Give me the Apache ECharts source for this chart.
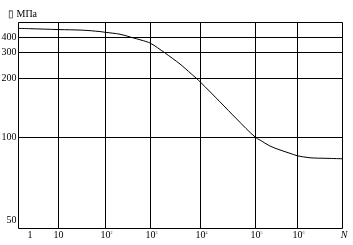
<!DOCTYPE html>
<html><head><meta charset="utf-8">
<script src="https://cdn.jsdelivr.net/npm/echarts@6/dist/echarts.min.js"></script>
<style>html,body{margin:0;padding:0;background:#fff}#c{width:353px;height:245px}</style>
</head><body><div id="c"></div>
<script>
// ---- data ----
const cycles = [0.4, 1, 10, 33, 76, 100, 210, 384, 615, 1000, 1905, 3890, 8356, 10000, 22620, 45500, 100000, 128000, 221000, 383000, 663000, 1000000, 1900000, 4530000, 10000000];
const stress = [458, 456, 450, 446, 437, 432, 420, 400, 381, 358, 300, 250.7, 200, 191.5, 152, 124.3, 100.2, 97.9, 93.1, 90.1, 87.6, 85.8, 84.4, 84.0, 83.7];
const xTickValues = [1, 10, 100, 1000, 10000, 100000, 1000000, 10000000];
const xTickBase = ['1', '10', '10', '10', '10', '10', '10', 'N'];
const xTickSup = ['', '', '2', '3', '4', '5', '6', ''];
const yTickValues = [400, 300, 200, 100, 50];
const yTickLabels = ['400', '300', '200', '100', '50'];
const unitLabel = '\u25AF МПа';

// ---- axis ranges of the hand-drawn, piecewise grid ----
const xEdges = [0.4, 10, 100, 1000, 10000, 100000, 1000000, 10000000];
const yEdges = [500, 400, 300, 200, 100, 46.7];
const colPx = [18.5, 58.5, 105.5, 150.5, 200.5, 255.5, 297.5, 342.5];
const rowPx = [22.5, 37.5, 52.5, 78.5, 137.5, 228.5];

const FONT = 'Liberation Serif';
const data = cycles.map((n, i) => [n, stress[i]]);
const grids = [], xAxes = [], yAxes = [], series = [];
const nC = colPx.length - 1, nR = rowPx.length - 1;

function xLabel(v) {
  const i = xTickValues.findIndex(t => Math.abs(Math.log10(t) - Math.log10(v)) < 1e-6);
  if (i < 0) return '';
  if (xTickBase[i] === 'N') return '{i|N}';
  return xTickSup[i] ? '{bp|' + xTickBase[i] + '}{s|' + xTickSup[i] + '}' : '{b|' + xTickBase[i] + '}';
}
function yLabel(v) {
  const i = yTickValues.findIndex(t => Math.abs(t - v) < 1e-6 * t);
  return i < 0 ? '' : yTickLabels[i];
}

for (let r = 0; r < nR; r++) {
  for (let c = 0; c < nC; c++) {
    const idx = grids.length;
    grids.push({
      left: colPx[c], top: rowPx[r],
      width: colPx[c + 1] - colPx[c], height: rowPx[r + 1] - rowPx[r],
      show: true, borderColor: '#000', borderWidth: 1, backgroundColor: 'transparent',
      containLabel: false, outerBoundsMode: 'none'
    });
    const xVals = xTickValues.filter(v => v >= xEdges[c] * (1 - 1e-9) && (v < xEdges[c + 1] * (1 - 1e-9) || c === nC - 1));
    const yVals = yTickValues.filter(v => v <= yEdges[r] * (1 + 1e-9) && v > yEdges[r + 1] * (1 + 1e-9));
    xAxes.push({
      type: 'log', logBase: 10, gridIndex: idx, min: xEdges[c], max: xEdges[c + 1],
      axisLine: { show: false }, axisTick: { show: false }, splitLine: { show: false },
      axisLabel: (r === nR - 1 && xVals.length) ? {
        show: true, customValues: xVals, margin: 2, formatter: xLabel, color: '#000',
        showMinLabel: true, showMaxLabel: true, hideOverlap: false,
        rich: {
          b: { fontFamily: FONT, fontSize: 10, color: '#000' },
          bp: { fontFamily: FONT, fontSize: 10, color: '#000', padding: [0, 0, 0, 2] },
          s: { fontFamily: FONT, fontSize: 4, color: '#333', verticalAlign: 'top' },
          i: { fontFamily: FONT, fontSize: 10, fontStyle: 'italic', color: '#000', padding: [0, 0, 0, 3] }
        }
      } : { show: false }
    });
    yAxes.push({
      type: 'log', logBase: 10, gridIndex: idx, min: yEdges[r + 1], max: yEdges[r],
      axisLine: { show: false }, axisTick: { show: false }, splitLine: { show: false },
      axisLabel: (c === 0 && yVals.length) ? {
        show: true, customValues: yVals, margin: 2, formatter: yLabel,
        showMinLabel: true, showMaxLabel: true, hideOverlap: false,
        fontFamily: FONT, fontSize: 10, color: '#000'
      } : { show: false }
    });
    series.push({
      type: 'line', xAxisIndex: idx, yAxisIndex: idx, data: data,
      symbol: 'none', showSymbol: false, smooth: 0.3, clip: true, silent: true,
      lineStyle: { color: '#000', width: 1 }
    });
  }
}

const chart = echarts.init(document.getElementById('c'), null, { renderer: 'canvas' });
chart.setOption({
  animation: false,
  backgroundColor: '#fff',
  title: {
    text: unitLabel, left: 3, top: 4,
    textStyle: { fontFamily: FONT, fontSize: 10, fontWeight: 'normal', color: '#000' }
  },
  grid: grids, xAxis: xAxes, yAxis: yAxes, series: series
});
</script>
</body></html>
